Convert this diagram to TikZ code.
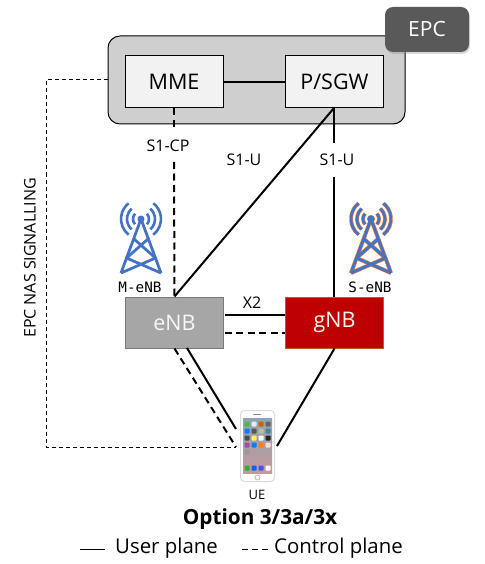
\documentclass[tikz,border=0pt]{standalone}
\usepackage{fontspec}
\setmainfont{Open Sans}
\newfontfamily\monof{DejaVu Sans Mono}
\usetikzlibrary{shadows}
\definecolor{towerblue}{HTML}{4472C4}
\definecolor{towerorange}{HTML}{ED7D31}
\definecolor{screentop}{HTML}{8FA3B5}
\definecolor{screenmid}{HTML}{6F9CCB}
\definecolor{screenbot}{HTML}{C49A9A}
\tikzset{
  cloudbox/.style={draw=black,line width=1pt,fill=black!19,rounded corners=12pt,minimum width=297pt,minimum height=88pt,inner sep=0pt},
  epcbox/.style={fill=black!65,text=white,rounded corners=8pt,minimum width=84pt,minimum height=45pt,inner sep=0pt,font=\fontsize{21}{23}\selectfont,drop shadow={shadow xshift=1pt,shadow yshift=-2pt,opacity=.3}},
  corebox/.style={draw=black,line width=1pt,fill=black!5,minimum width=98pt,minimum height=52pt,inner sep=0pt,font=\fontsize{21.5}{23}\selectfont},
  enbbox/.style={draw=black!52,line width=1pt,fill=black!35,text=black!3,minimum width=98pt,minimum height=51pt,inner sep=0pt,font=\fontsize{21.5}{23}\selectfont},
  gnbbox/.style={draw=towerorange!75!black,line width=1pt,fill=red!75!black,text=black!3,minimum width=98pt,minimum height=51pt,inner sep=0pt,font=\fontsize{21.5}{23}\selectfont},
  lab/.style={inner sep=0pt,font=\fontsize{16}{18}\selectfont},
  monolab/.style={inner sep=0pt,font=\monof\fontsize{14.3}{16}\selectfont},
  userline/.style={line width=2pt},
  ctrlline/.style={line width=2pt,dash pattern=on 7pt off 4.5pt},
  thindash/.style={line width=1pt,dash pattern=on 4pt off 3pt},
  icon/.style={inner sep=0pt,minimum size=5pt,rounded corners=.8pt},
}
% tower drawn around its top point; #1 = x, #2 = colour, #3 = extra width
\newcommand{\towerlines}[3]{%
  \begin{scope}[shift={(#1,219)},draw=#2,line join=round]
    \foreach \r/\a in {8/42,14/48,20/52}{
      \draw[line width=2.6pt+#3] (\a:\r) arc[start angle=\a,end angle=-\a,radius=\r];
      \draw[line width=2.6pt+#3] (180-\a:\r) arc[start angle=180-\a,end angle=180+\a,radius=\r];
    }
    \draw[line width=2.8pt+#3] (-20,54) -- (0,0) -- (20,54);
    \draw[line width=2.8pt+#3] (-7,20) -- (14.5,39) -- (-20,54);
    \draw[line width=2.8pt+#3] (7,20) -- (-14.5,39) -- (20,54);
    \fill[#2] (0,0) circle[radius=3.5pt+.5*#3];
  \end{scope}}
\begin{document}
\begin{tikzpicture}[x=1pt,y=-1pt]
\useasboundingbox (0,0) rectangle (484,564);
% EPC cloud and title
\node[cloudbox] (cloud) at (256.5,80) {};
\node[epcbox] (epc) at (427,29.5) {EPC};
% nodes
\node[corebox] (mme) at (174,82) {MME};
\node[corebox] (sgw) at (334.5,82) {P/SGW};
\node[enbbox] (enb) at (174.5,322.5) {eNB};
\node[gnbbox] (gnb) at (334.5,322.5) {gNB};
% labels
\node[lab] (s1cp) at (168,146) {S1-CP};
\node[lab] (s1ul) at (244,160) {S1-U};
\node[lab] (s1ur) at (337,160) {S1-U};
\node[lab] (x2) at (252,303) {X2};
\node[monolab] (meNB) at (140,287) {M-eNB};
\node[monolab] (seNB) at (370,287) {S-eNB};
\node[lab,font=\fontsize{13}{15}\selectfont] (uelab) at (257,495) {UE};
\node[inner sep=0pt,font=\bfseries\fontsize{20.8}{23}\selectfont] (opt) at (260,519) {Option 3/3a/3x};
\node[lab,rotate=90,font=\fontsize{16}{18}\selectfont] (nas) at (30,258) {EPC NAS SIGNALLING};
\node[inner sep=0pt,anchor=west,font=\fontsize{20.4}{23}\selectfont] (up) at (115,548) {User plane};
\node[inner sep=0pt,anchor=west,font=\fontsize{20.4}{23}\selectfont] (cp) at (274,548) {Control plane};
% towers
\towerlines{141}{towerblue}{0pt}
\towerlines{371}{towerorange}{1.2pt}
\towerlines{371}{towerblue}{0pt}
% UE
\node[draw=black!14,line width=1pt,fill=white,rounded corners=4pt,minimum width=34pt,minimum height=71pt,inner sep=0pt] (ue) at (257.5,446) {};
\shade[top color=screentop,middle color=screenmid,bottom color=screenbot] (243,418) rectangle (272,473);
\foreach \x/\y/\c in {
 247/424/green!60!black!70, 254/424/black!8, 261/424/orange!80!black, 268/424/black!60,
 247/431/blue!50!cyan, 254/431/black!65, 261/431/lime!40!black!40, 268/431/cyan!60!black,
 247/438/black!70, 254/438/yellow!70!white, 261/438/white, 268/438/black!85,
 247/445/violet!70!white, 254/445/blue!50!cyan, 261/445/orange, 268/445/red!15,
 247/452/black!40,
 247/468/green!60!black!80, 254/468/blue!60!cyan, 261/468/blue!70, 268/468/white}{
  \node[icon,fill=\c] at (\x,\y) {};
}
\draw[black!45,line width=.8pt] (253,414.5) -- (261,414.5);
\draw[black!30,line width=.7pt] (257.5,477.5) circle[radius=2.5pt];
% connector ends
\coordinate (cpa) at (174,127);
\coordinate (cpb) at (174,162);
\coordinate (ura) at (334,143);
\coordinate (urb) at (334,177);
\coordinate (uetop) at (236,429);
\coordinate (uemid) at (236,447);
\coordinate (ueright) at (277,446);
\coordinate (enbr) at (187,348);
\coordinate (nasa) at (46,80);
\coordinate (nasb) at (46,447);
\coordinate (xa) at (224.5,315);
\coordinate (xb) at (285,315);
\coordinate (xc) at (224.5,333);
\coordinate (xd) at (285,333);
\coordinate (sgwb) at (334,108);
\coordinate (gnbt) at (334,297);
\coordinate (la) at (80,549);
\coordinate (lb) at (105,549);
\coordinate (lc) at (242,549);
\coordinate (ld) at (268,549);
% connectors
\draw[userline] (mme.east) -- (sgw.west);
\draw[ctrlline] (mme.south) -- (cpa);
\draw[ctrlline] (cpb) -- (enb.north);
\draw[userline] (sgwb) -- (enb.north);
\draw[userline] (sgwb) -- (ura);
\draw[userline] (urb) -- (gnbt);
\draw[userline] (xa) -- (xb);
\draw[ctrlline] (xc) -- (xd);
\draw[userline] (enbr) -- (uetop);
\draw[ctrlline] (enb.south) -- (uemid);
\draw[userline] (gnb.south) -- (ueright);
\draw[thindash] (cloud.west) -- (nasa) -- (nasb) -- (uemid);
\draw[line width=1pt] (la) -- (lb);
\draw[line width=1pt,dash pattern=on 6pt off 4pt] (lc) -- (ld);
\end{tikzpicture}
\end{document}
